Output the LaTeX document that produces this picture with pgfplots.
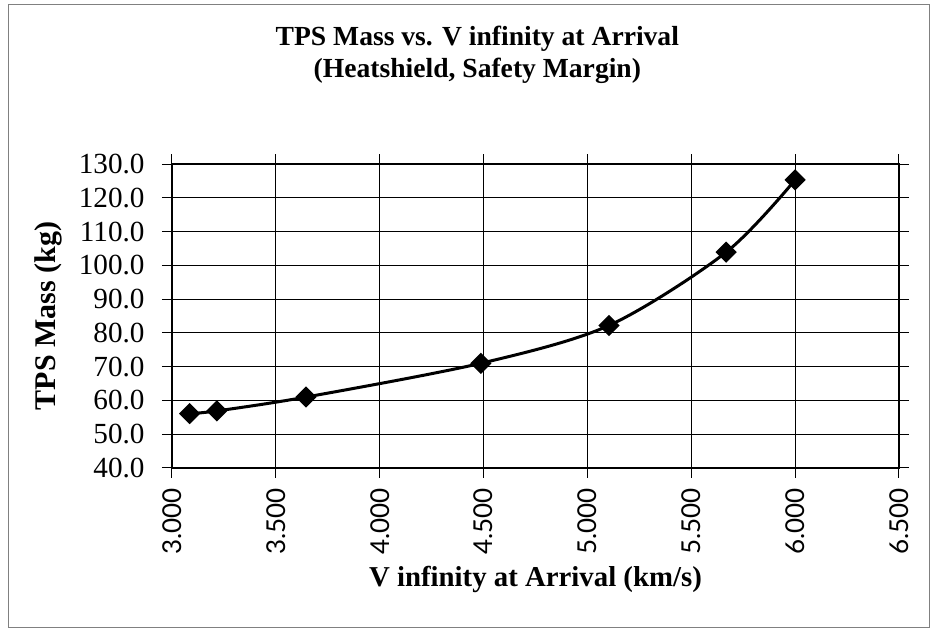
\documentclass[border=0pt]{standalone}
\usepackage{fontspec}
\setmainfont{Liberation Serif}
\newfontfamily\tickfont{Lato}
\usepackage{pgfplots}
\pgfplotsset{compat=1.18}
\begin{document}
\begin{tikzpicture}
\useasboundingbox (0,0) rectangle (466.5pt,316pt);
\begin{axis}[
  at={(86pt,82pt)}, anchor=south west,
  scale only axis, width=363.5pt, height=152pt,
  xmin=3.0, xmax=6.5, ymin=40, ymax=130,
  xtick={3.0,3.5,...,6.5},
  ytick={40,50,...,130},
  grid=major,
  major grid style={black, line width=0.5pt},
  axis line style={black, line width=1.3pt},
  tick align=outside,
  major tick length=5pt,
  tick style={black, line width=0.5pt},
  /pgf/number format/assume math mode=true,
  yticklabel={\pgfmathprintnumber[fixed,fixed zerofill,precision=1]{\tick}},
  xticklabel={\pgfmathprintnumber[fixed,fixed zerofill,precision=3]{\tick}},
  yticklabel style={font=\fontsize{14.6}{16}\selectfont, anchor=east, inner sep=0pt},
  yticklabel shift=8.5pt,
  xticklabel style={font=\tickfont\fontsize{13}{16}\selectfont, rotate=90, anchor=east, inner sep=0pt},
  xticklabel shift=5pt,
  every axis x label/.style={at={(rel axis cs:0.5,-0.3914)}, anchor=base},
  every axis y label/.style={at={(rel axis cs:-0.1706,0.5)}, rotate=90, anchor=center},
  xlabel={\fontsize{14.4}{16}\selectfont\bfseries V infinity at Arrival (km/s)},
  ylabel={\fontsize{15}{16}\selectfont\bfseries TPS Mass (kg)},
  clip=false,
]
\addplot[black, line width=1.5pt, smooth, mark=square*, mark size=3pt, mark options={rotate=45, solid, fill=black}]
  coordinates {(3.085,56.1) (3.216,56.9) (3.645,61.0) (4.487,71.0) (5.104,82.2) (5.668,103.9) (6.0,125.3)};
\node[anchor=base, font=\fontsize{13.8}{16}\selectfont\bfseries] at (rel axis cs:0.42,1.391) {TPS Mass vs. V infinity at Arrival};
\node[anchor=base, font=\fontsize{13.8}{16}\selectfont\bfseries] at (rel axis cs:0.42,1.286) {(Heatshield, Safety Margin)};
\end{axis}
\draw[gray, line width=0.5pt] (4pt,2pt) rectangle (464.5pt,313.5pt);
\end{tikzpicture}
\end{document}
